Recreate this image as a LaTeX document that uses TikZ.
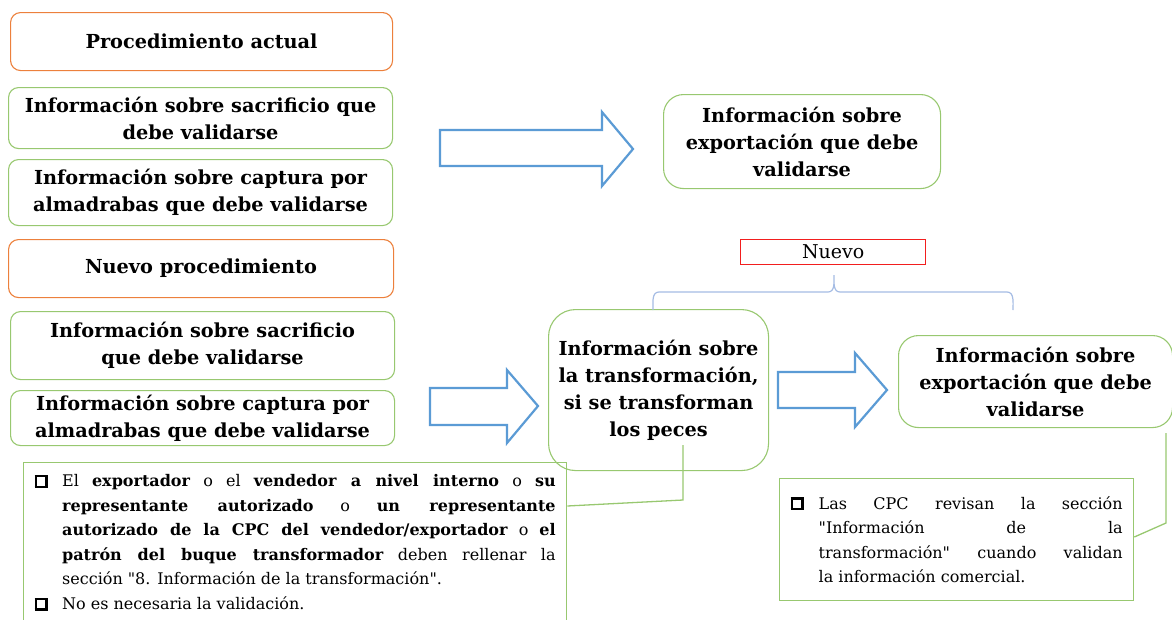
\documentclass[tikz,border=0pt]{standalone}
\usepackage{fontspec}
\setmainfont{DejaVu Serif}
\newfontfamily\rectas{DejaVu Serif}
\usetikzlibrary{positioning}
\definecolor{naranja}{RGB}{236,128,60}
\definecolor{verde}{RGB}{152,200,112}
\definecolor{azul}{RGB}{91,155,213}
\definecolor{azulclaro}{RGB}{165,188,228}
\definecolor{rojo}{RGB}{242,30,30}
\newcommand{\titulo}{\fontsize{19.3}{27}\selectfont\bfseries}
\newcommand{\nota}{\fontsize{16}{24.5}\selectfont}
\newcommand{\comillas}{{\rectas"}}
\newcommand{\casilla}{\raisebox{1pt}{\fboxsep=0pt\fboxrule=2.2pt\fbox{\rule{0pt}{8.5pt}\hspace{8.5pt}}}}

\begin{document}
\begin{tikzpicture}[x=1pt, y=-1pt,
    caja/.style={draw, line width=1.1pt, rounded corners=10pt, anchor=north west,
                 align=center, font=\titulo, inner sep=0pt},
    procaja/.style={caja, draw=naranja},
    infocaja/.style={caja, draw=verde},
    notacaja/.style={draw=verde, line width=1.3pt, anchor=north west, align=justify,
                     font=\nota, inner xsep=11pt, inner ysep=12pt},
    flecha/.style={draw=azul, line width=2.2pt, fill=white},
    enlace/.style={draw=verde, line width=1.3pt}]
  \useasboundingbox (0,0) rectangle (1172,619);

  % procedimiento actual
  \node[procaja, minimum width=382, minimum height=58] (actual) at (10,12) {Procedimiento actual};
  \node[infocaja, minimum width=384, minimum height=61] (sacrA) at (8,87)
       {Información sobre sacrificio que\\debe validarse};
  \node[infocaja, minimum width=384, minimum height=66] (captA) at (8,159)
       {Información sobre captura por\\almadrabas que debe validarse};
  \node[infocaja, rounded corners=20pt, minimum width=277, minimum height=94] (expA) at (663,94)
       {Información sobre\\exportación que debe\\validarse};
  \draw[flecha] (440,130) -- (602,130) -- (602,112) -- (633,149) -- (602,186) -- (602,166) -- (440,166) -- cycle;

  % nuevo procedimiento
  \node[procaja, minimum width=385, minimum height=58] (nuevoproc) at (8,239) {Nuevo procedimiento};
  \node[infocaja, minimum width=384, minimum height=68] (sacrB) at (10,311)
       {Información sobre sacrificio\\que debe validarse};
  \node[infocaja, minimum width=384, minimum height=55] (captB) at (10,390)
       {Información sobre captura por\\almadrabas que debe validarse};
  \node[infocaja, rounded corners=27pt, minimum width=220, minimum height=161] (transf) at (548,309)
       {Información sobre\\la transformación,\\si se transforman\\los peces};
  \node[infocaja, rounded corners=20pt, minimum width=274, minimum height=92] (expB) at (898,335)
       {Información sobre\\exportación que debe\\validarse};
  \draw[flecha] (430,388) -- (507,388) -- (507,370) -- (538,406) -- (507,443) -- (507,425) -- (430,425) -- cycle;
  \draw[flecha] (778,372) -- (855,372) -- (855,353) -- (887,390) -- (855,427) -- (855,408) -- (778,408) -- cycle;

  % nuevo
  \node[draw=rojo, line width=1.3pt, anchor=north west, minimum width=185, minimum height=25.5,
        inner sep=0pt, font=\fontsize{19}{21}\selectfont] (nuevo) at (740,238.5) {Nuevo};
  \coordinate (llave) at (834,275);
  \draw[azulclaro, line width=1.2pt] (653,310) to[out=90,in=180] (659,292) -- (828,292)
       to[out=0,in=-90] (llave) to[out=-90,in=180] (840,292) -- (1007,292) to[out=0,in=90] (1013,310);

  % notas
  \node[notacaja, text width=521] (notaA) at (23,462) {%
    \noindent\hangindent=27.5pt\hangafter=0\llap{\makebox[27.5pt][l]{\casilla}}%
    El \textbf{exportador} o el \textbf{vendedor a nivel interno} o \textbf{su}\linebreak
    \textbf{representante autorizado} o \textbf{un representante}\linebreak
    \textbf{autorizado de la CPC del vendedor/exportador} o \textbf{el}\linebreak
    \textbf{patrón del buque transformador} deben rellenar la\linebreak
    sección \comillas8. Información de la transformación\comillas.\par
    \noindent\hangindent=27.5pt\hangafter=0\llap{\makebox[27.5pt][l]{\casilla}}%
    No es necesaria la validación.\rule[-24pt]{0pt}{0pt}\par};
  \node[notacaja, text width=332, minimum height=122] (notaB) at (779,478) {%
    \noindent\hangindent=28pt\hangafter=0\llap{\makebox[28pt][l]{\casilla}}%
    Las CPC revisan la sección\linebreak
    \comillas Información de la\linebreak
    transformación\comillas{} cuando validan\linebreak
    la información comercial.\par};

  % enlaces
  \coordinate (dT) at (683,445);
  \coordinate (dE) at (1166,433);
  \draw[enlace] (dT) -- (683,500) -- (notaA.east |- 0,506);
  \draw[enlace] (dE) -- (1166,523) -- (notaB.east |- 0,537);
\end{tikzpicture}
\end{document}
